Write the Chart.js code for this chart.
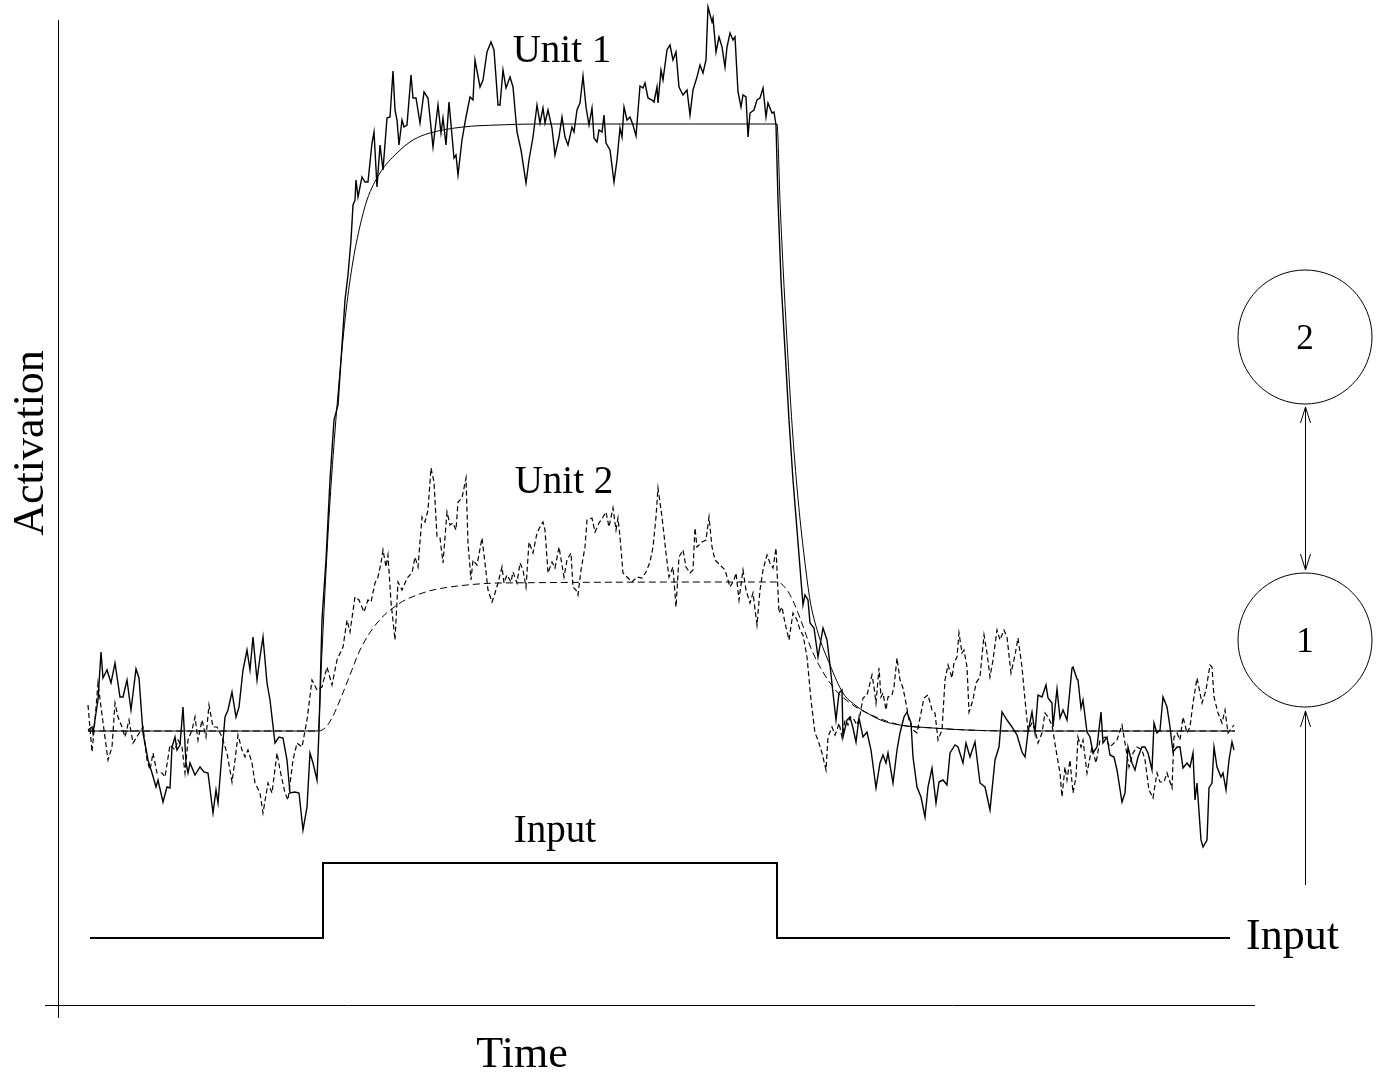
<!DOCTYPE html>
<html lang="en">
<head>
  <meta charset="UTF-8">
  <title>Unit activation over time</title>
  <script src="https://cdn.jsdelivr.net/npm/chart.js"></script>
  <style>
    html, body { margin: 0; padding: 0; background: #fff; }
    #wrap { width: 1381px; height: 1076px; position: relative; }
  </style>
</head>
<body>
  <div id="wrap"><canvas id="myChart"></canvas></div>

  <script>
    // [time step, activation] pairs (activation in arbitrary units, rest level = 0)
    const unit1Noisy = [[0,1],[4,4],[5,-2],[8,18],[10,31],[13,79],[15,53],[19,61],[23,48],[27,68],[32,34],[35,34],[39,51],[43,21],[48,62],[51,53],[55,-2],[60,-29],[64,-42],[68,-56],[70,-49],[75,-71],[79,-56],[82,-57],[84,-16],[87,-6],[89,-19],[92,-14],[95,24],[98,-32],[100,-42],[102,-32],[107,-44],[112,-36],[116,-41],[120,-42],[125,-82],[128,-59],[130,-72],[134,-22],[137,14],[140,21],[144,39],[148,14],[151,24],[155,61],[159,81],[162,61],[165,94],[169,51],[172,74],[175,94],[179,48],[182,31],[187,-12],[191,-6],[195,-7],[199,-29],[202,-62],[207,-61],[211,-62],[215,-99],[219,-76],[222,-22],[225,-32],[229,-49],[231,1],[234,111],[238,171],[242,251],[246,311],[250,326],[253,371],[257,431],[260,456],[263,491],[265,526],[267,531],[268,551],[270,534],[274,554],[277,549],[280,549],[284,588],[286,599],[289,544],[292,586],[295,561],[299,613],[302,614],[305,660],[307,621],[309,611],[311,586],[314,611],[316,604],[319,606],[323,656],[325,633],[328,633],[332,608],[336,639],[340,633],[345,584],[350,626],[353,598],[355,613],[358,586],[361,629],[366,573],[368,576],[370,556],[374,591],[378,614],[382,634],[385,631],[387,671],[392,644],[395,651],[399,679],[403,689],[406,681],[410,626],[412,626],[415,661],[418,643],[422,654],[425,644],[429,599],[433,581],[438,548],[441,571],[445,594],[449,626],[452,608],[455,623],[457,608],[460,621],[464,603],[467,576],[471,594],[474,614],[477,594],[480,586],[484,604],[486,599],[489,621],[492,628],[495,655],[498,624],[501,606],[504,623],[506,593],[509,589],[511,601],[514,599],[516,616],[518,588],[522,581],[526,549],[529,571],[532,603],[534,594],[536,624],[539,611],[542,614],[545,606],[548,595],[552,645],[555,643],[557,648],[560,633],[564,631],[566,629],[569,644],[570,628],[573,661],[575,651],[579,681],[582,686],[585,671],[588,679],[591,644],[595,636],[599,641],[602,616],[605,641],[609,654],[612,666],[615,658],[618,671],[620,724],[624,709],[625,713],[628,679],[631,694],[634,684],[637,664],[639,684],[642,698],[645,691],[647,694],[650,639],[653,624],[655,636],[658,634],[660,594],[662,618],[666,621],[669,631],[672,633],[675,643],[678,614],[680,628],[684,618],[686,619],[688,606],[690,531],[693,451],[697,381],[701,311],[705,251],[709,201],[713,151],[715,126],[717,136],[720,131],[722,108],[726,103],[730,74],[735,103],[739,91],[742,66],[745,38],[748,11],[751,38],[754,41],[755,-6],[759,11],[762,14],[765,3],[768,-11],[771,13],[775,-6],[779,-1],[783,-19],[788,-57],[792,-32],[795,-24],[798,-32],[800,-22],[805,-52],[809,-19],[812,-2],[816,14],[819,19],[823,8],[825,-26],[829,-56],[833,-66],[837,-86],[840,-56],[844,-37],[848,-72],[851,-51],[855,-49],[859,-54],[862,-22],[867,-14],[870,-16],[875,-32],[878,-12],[882,-26],[887,-11],[892,-52],[897,-56],[902,-79],[907,-29],[911,-16],[914,19],[919,11],[924,4],[929,-4],[934,-21],[937,-26],[940,-1],[944,19],[947,-2],[950,36],[954,34],[958,46],[960,33],[964,28],[965,4],[969,42],[972,13],[975,21],[979,11],[984,63],[985,64],[989,52],[990,51],[993,23],[995,31],[999,-1],[1002,-6],[1005,-22],[1009,-16],[1013,19],[1015,-12],[1019,-6],[1022,-24],[1026,-26],[1029,-39],[1034,-71],[1037,-62],[1040,-16],[1044,-32],[1047,-39],[1050,-26],[1054,-16],[1057,-16],[1060,-22],[1064,-39],[1066,8],[1069,-2],[1072,1],[1075,34],[1079,24],[1082,4],[1085,-21],[1089,-16],[1092,-16],[1095,-37],[1099,-32],[1102,-36],[1105,-22],[1107,-69],[1109,-52],[1113,-109],[1115,-116],[1119,-109],[1121,-57],[1124,-52],[1126,-16],[1129,-36],[1133,-46],[1135,-42],[1138,-59],[1141,-29],[1144,-11],[1146,-19]];

    const unit2Noisy = [[0,26],[4,-21],[7,11],[10,48],[13,24],[16,1],[20,-29],[24,-16],[27,28],[30,14],[34,4],[37,-6],[41,11],[45,-12],[50,-4],[55,4],[59,-29],[62,-39],[65,-22],[69,-42],[74,-42],[77,-46],[82,-14],[87,-19],[90,-9],[94,-16],[97,-42],[100,-9],[104,1],[107,14],[110,-9],[114,11],[118,-6],[121,26],[125,4],[129,4],[134,-6],[139,-22],[144,-51],[147,-29],[150,-4],[154,-19],[157,-26],[160,-19],[164,-32],[167,-52],[172,-62],[175,-82],[180,-52],[184,-62],[189,-22],[192,-39],[197,-62],[200,-69],[205,-29],[209,-12],[214,-16],[219,11],[224,51],[229,41],[234,44],[239,64],[244,46],[249,71],[255,84],[259,111],[262,99],[267,134],[271,131],[276,119],[280,131],[283,129],[287,148],[290,154],[293,168],[295,181],[298,164],[300,176],[303,129],[307,91],[310,149],[314,141],[317,148],[320,154],[324,158],[327,174],[330,164],[334,214],[337,209],[340,221],[343,263],[346,249],[349,194],[352,193],[355,168],[359,219],[362,206],[365,208],[368,201],[370,229],[374,233],[378,253],[380,188],[383,151],[385,171],[389,166],[394,193],[397,168],[400,141],[404,129],[407,138],[410,148],[414,164],[416,148],[419,156],[423,149],[425,159],[429,148],[432,168],[435,161],[438,144],[441,189],[445,178],[449,198],[453,206],[455,209],[457,201],[460,158],[464,169],[467,163],[471,184],[474,166],[476,154],[479,171],[483,178],[485,144],[488,141],[490,136],[493,161],[497,184],[499,211],[504,213],[507,199],[511,208],[515,214],[518,219],[521,204],[525,223],[528,201],[530,213],[532,194],[535,158],[539,154],[544,149],[549,154],[554,153],[558,159],[562,169],[565,184],[568,214],[570,243],[574,214],[578,178],[581,154],[585,164],[588,124],[591,174],[595,181],[598,164],[602,158],[605,161],[607,203],[609,184],[614,189],[618,191],[621,214],[624,184],[627,171],[632,166],[637,161],[642,144],[646,151],[648,158],[651,131],[655,161],[658,141],[662,128],[665,138],[669,106],[672,141],[675,161],[679,176],[682,168],[685,163],[688,183],[691,118],[694,124],[697,108],[701,91],[705,118],[709,111],[712,101],[715,96],[719,74],[723,31],[727,-2],[730,-9],[734,-22],[738,-39],[740,-6],[744,4],[747,-4],[749,1],[751,8],[754,-6],[757,11],[760,6],[762,14],[765,13],[769,6],[772,16],[775,33],[779,36],[784,56],[786,44],[788,28],[791,63],[793,34],[795,38],[798,21],[800,34],[804,36],[806,44],[809,73],[812,51],[815,43],[818,28],[821,11],[825,1],[829,-2],[832,13],[836,33],[840,36],[844,21],[847,18],[850,-9],[854,1],[857,51],[860,66],[864,53],[866,68],[869,74],[871,98],[874,78],[876,81],[879,64],[881,19],[885,31],[888,48],[892,54],[896,96],[899,78],[902,54],[905,71],[909,101],[912,91],[916,101],[919,94],[923,58],[927,76],[930,93],[934,64],[937,31],[940,1],[944,8],[947,1],[950,-12],[954,-2],[957,18],[960,14],[964,6],[968,-19],[972,-42],[974,-66],[977,-36],[979,-49],[982,-29],[985,-62],[988,-46],[990,-6],[993,-16],[995,-9],[999,-42],[1004,-16],[1008,-32],[1012,-9],[1017,-6],[1022,-16],[1029,-9],[1034,6],[1037,-12],[1041,-36],[1045,-22],[1049,-16],[1054,-19],[1057,-29],[1061,-59],[1065,-67],[1069,-42],[1072,-51],[1076,-51],[1079,-42],[1084,-57],[1086,-6],[1089,-2],[1092,-9],[1095,14],[1099,-2],[1102,4],[1105,28],[1109,53],[1114,28],[1118,41],[1122,66],[1124,64],[1126,34],[1130,18],[1134,8],[1137,21],[1140,-2],[1146,6]];

    // noise-free responses
    const unit1Mean = [[0,0],[230,0],[234,80],[238,160],[242,230],[247,300],[252,360],[258,420],[265,470],[272,505],[279,531],[292,558],[309,578],[325,591],[342,598],[375,604],[409,606],[450,607],[689,607],[692,530],[695,465],[699,390],[703,322],[707,267],[712,212],[717,168],[722,131],[730,98],[742,66],[755,38],[767,26],[779,18],[795,10],[812,6],[845,3],[879,1],[920,0],[1147,0]];
    const unit2Mean = [[0,0],[230,0],[237,3],[244,13],[252,31],[262,56],[272,81],[289,108],[312,128],[329,136],[345,141],[379,146],[412,148],[689,149],[699,141],[706,128],[712,113],[725,78],[745,44],[762,28],[779,18],[812,6],[845,3],[879,1],[920,0],[1147,0]];

    // input pulse (step changes)
    const inputTime = [2, 235, 689, 1142];
    const inputLevel = [-207, -132, -207, -207];

    function toPoints(pairs) {
      return pairs.map(p => ({ x: p[0], y: p[1] }));
    }

    function arrowHead(ctx, x, y, dir) {
      // open V head, dir = -1 points up, 1 points down
      ctx.beginPath();
      ctx.moveTo(x - 5, y - dir * 16);
      ctx.lineTo(x, y);
      ctx.lineTo(x + 5, y - dir * 16);
      ctx.stroke();
    }

    const figureDecor = {
      id: 'figureDecor',
      afterDatasetsDraw(chart) {
        const { ctx, chartArea: a, scales: { x, y } } = chart;
        ctx.save();
        ctx.strokeStyle = '#000';
        ctx.fillStyle = '#000';
        ctx.lineWidth = 1;

        // axes, crossing a little at the origin
        ctx.beginPath();
        ctx.moveTo(a.left + 0.5, a.top);
        ctx.lineTo(a.left + 0.5, a.bottom + 13);
        ctx.moveTo(a.left - 13, a.bottom + 0.5);
        ctx.lineTo(a.right, a.bottom + 0.5);
        ctx.stroke();

        // curve labels
        ctx.font = '39px "Liberation Serif"';
        ctx.textAlign = 'center';
        ctx.textBaseline = 'alphabetic';
        ctx.fillText('Unit 1', x.getPixelForValue(474), y.getPixelForValue(669));
        ctx.fillText('Unit 2', x.getPixelForValue(476), y.getPixelForValue(238));
        ctx.fillText('Input', x.getPixelForValue(467), y.getPixelForValue(-111));

        // axis titles
        ctx.font = '44px "Liberation Serif"';
        ctx.fillText('Time', a.left + 464, a.bottom + 62);
        ctx.save();
        ctx.translate(a.left - 15, a.top + 423);
        ctx.rotate(-Math.PI / 2);
        ctx.fillText('Activation', 0, 0);
        ctx.restore();

        // network sketch on the right
        const cx = a.right + 50;
        const c2 = a.top + 317, c1 = a.top + 620, r = 67;
        ctx.beginPath();
        ctx.arc(cx, c2, r, 0, Math.PI * 2);
        ctx.stroke();
        ctx.beginPath();
        ctx.arc(cx, c1, r, 0, Math.PI * 2);
        ctx.stroke();
        ctx.font = '35px "Liberation Serif"';
        ctx.fillText('2', cx, c2 + 12);
        ctx.fillText('1', cx, c1 + 12);

        // two-way link between units
        const lt = c2 + r + 3, lb = c1 - r - 3;
        ctx.beginPath();
        ctx.moveTo(cx + 0.5, lt);
        ctx.lineTo(cx + 0.5, lb);
        ctx.stroke();
        arrowHead(ctx, cx + 0.5, lt, -1);
        arrowHead(ctx, cx + 0.5, lb, 1);

        // input arrow into unit 1
        const it = c1 + r + 4, ib = a.top + 865;
        ctx.beginPath();
        ctx.moveTo(cx + 0.5, ib);
        ctx.lineTo(cx + 0.5, it);
        ctx.stroke();
        arrowHead(ctx, cx + 0.5, it, -1);

        ctx.font = '44px "Liberation Serif"';
        ctx.textAlign = 'left';
        ctx.fillText('Input', a.right - 9, a.top + 929);
        ctx.restore();
      }
    };

    const ctx = document.getElementById('myChart').getContext('2d');

    const myChart = new Chart(ctx, {
      type: 'line',
      data: {
        datasets: [
          {
            label: 'Unit 1',
            data: toPoints(unit1Noisy),
            borderColor: '#000',
            borderWidth: 1.4
          },
          {
            label: 'Unit 2',
            data: toPoints(unit2Noisy),
            borderColor: '#000',
            borderWidth: 1.2,
            borderDash: [5, 3]
          },
          {
            label: 'Unit 1 (mean)',
            data: toPoints(unit1Mean),
            borderColor: '#000',
            borderWidth: 1,
            cubicInterpolationMode: 'monotone'
          },
          {
            label: 'Unit 2 (mean)',
            data: toPoints(unit2Mean),
            borderColor: '#000',
            borderWidth: 1,
            borderDash: [7, 4],
            cubicInterpolationMode: 'monotone'
          },
          {
            label: 'Input',
            data: inputTime.map((t, i) => ({ x: t, y: inputLevel[i] })),
            borderColor: '#000',
            borderWidth: 2,
            stepped: true
          }
        ]
      },
      options: {
        responsive: true,
        maintainAspectRatio: false,
        devicePixelRatio: 1,
        animation: false,
        layout: { padding: { left: 58, top: 20, right: 126, bottom: 71 } },
        elements: { point: { radius: 0 }, line: { tension: 0 } },
        datasets: { line: { clip: false } },
        plugins: {
          legend: { display: false },
          tooltip: { enabled: false }
        },
        scales: {
          x: { type: 'linear', display: false, min: -30, max: 1167 },
          y: { type: 'linear', display: false, min: -274, max: 711 }
        }
      },
      plugins: [figureDecor]
    });
  </script>
</body>
</html>
